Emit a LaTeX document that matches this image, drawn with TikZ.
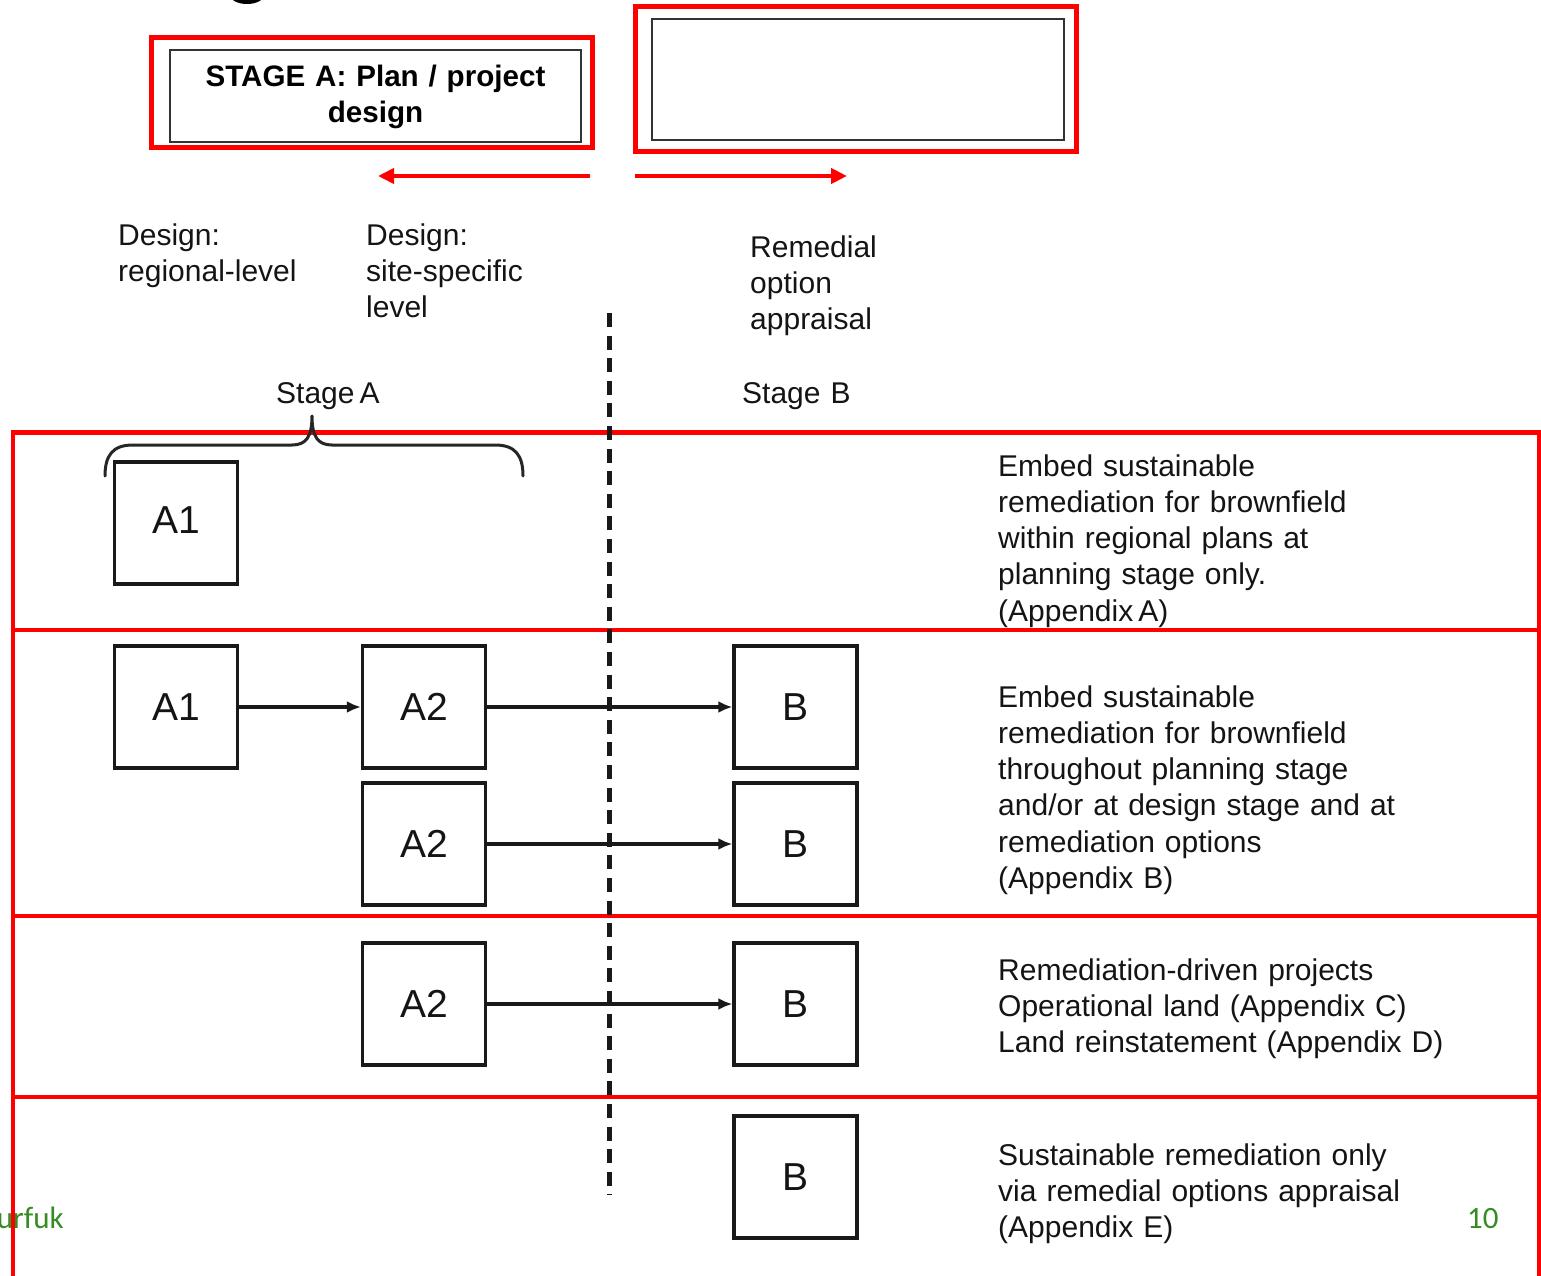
\documentclass[tikz,border=0pt]{standalone}
\usepackage{fontspec}
\setmainfont{Liberation Sans}
\newfontfamily\greenfont{Carlito}
\usetikzlibrary{arrows.meta}
\definecolor{framered}{RGB}{255,0,0}
\definecolor{pagegreen}{RGB}{52,140,34}
\definecolor{textblack}{RGB}{20,20,20}
\begin{document}
\begin{tikzpicture}[x=1pt,y=-1pt,
  redframe/.style={draw=framered, line width=5pt},
  redrow/.style={draw=framered, line width=4.5pt},
  thinframe/.style={draw=black!80, line width=1.3pt},
  redarrow/.style={draw=framered, line width=4.5pt, -{Triangle[length=16pt,width=15pt]}},
  stagebox/.style={draw=black!90, line width=3.2pt, minimum width=123pt, minimum height=122pt,
    inner sep=0pt, text=textblack, font=\fontsize{39}{39}\selectfont},
  conn/.style={draw=black!90, line width=3.2pt, -{Latex[length=14pt,width=12pt]}},
  lbl/.style={anchor=base west, inner sep=0pt, text=textblack, align=left, text width=560pt,
    font=\fontsize{30}{36.3}\selectfont},
  titletext/.style={anchor=base, inner sep=0pt, align=center, text width=420pt,
    font=\bfseries\fontsize{29.6}{36}\selectfont},
  greentext/.style={inner sep=0pt, text=pagegreen, font=\greenfont\fontsize{31}{31}\selectfont},
  bracestyle/.style={draw=black!85, line width=3pt, line cap=round, line join=round}
]
\useasboundingbox (0,0) rectangle (1541,1276);

% partial glyph cut at the top
\fill[black] (247,-5) ellipse [x radius=17, y radius=9];

% top framed boxes
\draw[redframe] (151.5,37.5) rectangle (592.5,147.5);
\draw[thinframe] (170,50) rectangle (581,142);
\node[titletext] (title) at (375.5,87) {STAGE A: Plan / project\\design};

\draw[redframe] (635.5,6.5) rectangle (1076.5,151.5);
\draw[thinframe] (652,19) rectangle (1064,140);

% red direction arrows
\coordinate (la0) at (590,176);
\coordinate (la1) at (378,176);
\coordinate (ra0) at (635,176);
\coordinate (ra1) at (847,176);
\draw[redarrow] (la0) -- (la1);
\draw[redarrow] (ra0) -- (ra1);

% column headings
\node[lbl] (hreg) at (118,245) {Design:\\regional-level};
\node[lbl] (hsite) at (366,245) {Design:\\site-specific\\level};
\node[lbl] (hrem) at (750,257) {Remedial\\option\\appraisal};
\node[lbl] (hsa) at (276,403) {Stage\,A};
\node[lbl] (hsb) at (742,403) {Stage B};

% row frames
\draw[redrow] (13,432.5) rectangle (1539,630);
\draw[redrow] (13,630) rectangle (1539,916);
\draw[redrow] (13,916) rectangle (1539,1097);
\draw[redrow] (13,1097) rectangle (1539,1300);

% dashed divider
\coordinate (dtop) at (609,313);
\coordinate (dbot) at (609,1195);
\draw[draw=black!90, line width=5pt, dash pattern=on 14pt off 8.6pt] (dtop) -- (dbot);

% brace
\draw[bracestyle] (105,476) .. controls (105,455) and (113,445) .. (133,445)
  -- (292,445) .. controls (306,445) and (312,437) .. (312,416)
  .. controls (312,437) and (318,445) .. (332,445)
  -- (495,445) .. controls (515,445) and (523,455) .. (523,476);

% boxes
\node[stagebox] (r1a1) at (176,523) {\raisebox{5pt}{A1}};
\node[stagebox] (r2a1) at (176,707) {A1};
\node[stagebox] (r2a2) at (424,707) {A2};
\node[stagebox] (r2b) at (795.5,707) {B};
\node[stagebox] (r2a2b) at (424,844) {A2};
\node[stagebox] (r2bb) at (795.5,844) {B};
\node[stagebox] (r3a2) at (424,1004) {A2};
\node[stagebox] (r3b) at (795.5,1004) {B};
\node[stagebox] (r4b) at (795.5,1177) {B};

% connectors
\draw[conn] (r2a1) -- (r2a2);
\draw[conn] (r2a2) -- (r2b);
\draw[conn] (r2a2b) -- (r2bb);
\draw[conn] (r3a2) -- (r3b);

% row descriptions
\node[lbl] (d1) at (998,476) {Embed sustainable\\remediation for brownfield\\within regional plans at\\planning stage only.\\(Appendix\,A)};
\node[lbl] (d2) at (998,707) {Embed sustainable\\remediation for brownfield\\throughout planning stage\\and/or at design stage and at\\remediation options\\(Appendix B)};
\node[lbl] (d3) at (998,980) {Remediation-driven projects\\Operational land (Appendix C)\\Land reinstatement (Appendix D)};
\node[lbl] (d4) at (998,1165) {Sustainable remediation only\\via remedial options appraisal\\(Appendix E)};

% footer texts
\node[greentext, anchor=base east] (foot1) at (64,1228) {urfuk};
\node[greentext, anchor=base west] (foot2) at (1467,1228) {10};
\end{tikzpicture}
\end{document}
